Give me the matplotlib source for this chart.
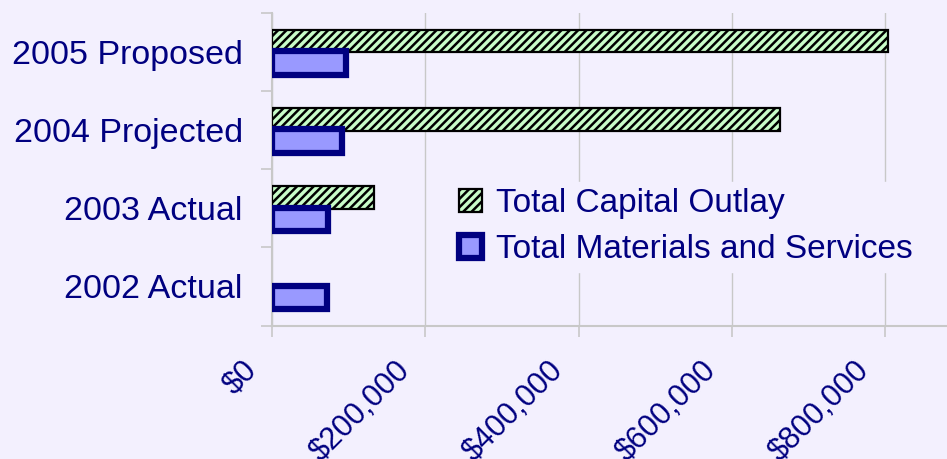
import numpy as np
import matplotlib.pyplot as plt
import matplotlib.transforms as mtransforms
from matplotlib.ticker import FuncFormatter

# Données
categories = ['2002 Actual', '2003 Actual', '2004 Projected', '2005 Proposed']
capital_outlay = [0, 133000, 663000, 804000]
materials_services = [72000, 73000, 91500, 96000]
x_ticks = [0, 200000, 400000, 600000, 800000]

bg = '#F3F0FE'
navy = '#000080'

plt.rcParams['font.family'] = ['Liberation Sans', 'DejaVu Sans']
plt.rcParams['hatch.linewidth'] = 1.8

fig = plt.figure(figsize=(9.47, 4.59), dpi=100, facecolor=bg)
ax = fig.add_axes([272 / 947, 1 - 325.5 / 459, 1 - 272 / 947, (325.5 - 12.5) / 459])
ax.set_facecolor(bg)

y = np.arange(len(categories))

# Barres
ax.barh(y + 0.135, capital_outlay, height=0.29, color='#C8FCC8', edgecolor='black',
        hatch='////', linewidth=[0 if v == 0 else 1.6 for v in capital_outlay],
        label='Total Capital Outlay', zorder=3)
ax.barh(y - 0.145, materials_services, height=0.30, color='#9999FF', edgecolor=navy,
        linewidth=4.5, label='Total Materials and Services', zorder=3)

ax.set_xlim(0, 880600)
ax.set_ylim(-0.5, len(categories) - 0.5)

# Axes et grille
ax.set_xticks(x_ticks)
ax.xaxis.set_major_formatter(FuncFormatter(lambda v, p: '${:,.0f}'.format(v)))
ax.set_yticks(y)
ax.set_yticklabels(categories)
ax.set_yticks(np.arange(len(categories) + 1) - 0.5, minor=True)
ax.grid(axis='x', color='#C8C8C8', linewidth=1, zorder=0)

for s in ['top', 'right']:
    ax.spines[s].set_visible(False)
for s in ['left', 'bottom']:
    ax.spines[s].set_color('#C8C8C8')
    ax.spines[s].set_linewidth(1.5)

ax.tick_params(axis='y', which='major', length=0, pad=21, labelsize=24.5, labelcolor=navy)
ax.tick_params(axis='y', which='minor', length=8, color='#C8C8C8', width=1.2)
ax.tick_params(axis='x', length=8, color='#C8C8C8', width=1.2, labelsize=22,
               labelcolor=navy, pad=0)
offset = mtransforms.ScaledTranslation(-0.20, -0.29, fig.dpi_scale_trans)
for lbl in ax.get_xticklabels():
    lbl.set_rotation(45)
    lbl.set_ha('right')
    lbl.set_va('center')
    lbl.set_rotation_mode('anchor')
    lbl.set_transform(lbl.get_transform() + offset)

# Légende
leg = ax.legend(loc='upper left', bbox_to_anchor=(0.2665, 0.46), fontsize=24,
                frameon=True, facecolor=bg, edgecolor=bg, framealpha=1,
                handlelength=0.7, handleheight=0.7, handletextpad=0.42,
                labelspacing=0.45, borderpad=0.2, borderaxespad=0)
leg.legend_handles[0].set_linewidth(1.6)
for t in leg.get_texts():
    t.set_color(navy)
leg.set_zorder(5)

fig.savefig('out.png', dpi=100, facecolor=bg)
